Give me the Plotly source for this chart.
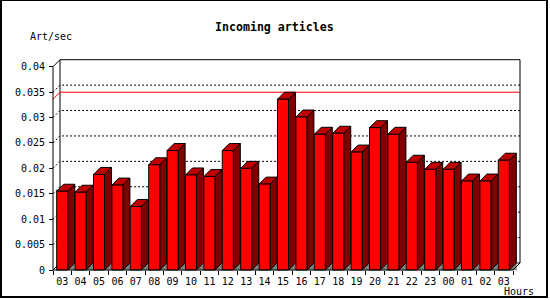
import plotly.graph_objects as go

# ---------------- data ----------------
hours = ["03", "04", "05", "06", "07", "08", "09", "10", "11", "12", "13", "14",
         "15", "16", "17", "18", "19", "20", "21", "22", "23", "00", "01", "02", "03"]
art_per_sec = [0.0155, 0.0153, 0.0188, 0.0167, 0.0125, 0.0207, 0.0235, 0.0187,
               0.0184, 0.0235, 0.0200, 0.0169, 0.0336, 0.0301, 0.0267, 0.0269,
               0.0232, 0.0280, 0.0267, 0.0212, 0.0198, 0.0198, 0.0175, 0.0175,
               0.0216]
y_tick_values = [0, 0.005, 0.01, 0.015, 0.02, 0.025, 0.03, 0.035, 0.04]
y_tick_labels = ["0", "0.005", "0.01", "0.015", "0.02", "0.025", "0.03", "0.035", "0.04"]
title_text = "Incoming articles"
y_title = "Art/sec"
x_title = "Hours"

# ---------------- geometry (styles) ----------------
W, H = 550, 300
X0PX, Y0PX = 53, 270          # front origin in pixels
CAT_PX = 18.4                 # pixels per category
VAL_PX = 203.3 / 0.04         # pixels per unit value
DEPTH_PX = 7                  # 3d depth offset in pixels
L, R, T, B = 44, 528, 52, 276 # plot area in pixels

dxu = DEPTH_PX / CAT_PX
dyu = DEPTH_PX / VAL_PX
n = len(hours)
top = y_tick_values[-1]
bar_l, bar_r = 0.2, 0.8

FRONT = "#ff0000"
SIDE = "#800000"
TOPC = "#c00000"
SHADOW = "#808080"
FONT = "DejaVu Sans Mono"


def px_x(px):
    return (px - L) / (R - L)


def px_y(py):
    return (B - py) / (B - T)


fig = go.Figure()


def poly_trace(xs, ys, fill=None, color="black", width=1, dash=None):
    kw = dict(x=xs, y=ys, mode="lines", hoverinfo="skip", showlegend=False,
              line=dict(color=color, width=width, dash=dash))
    if fill:
        kw.update(fill="toself", fillcolor=fill)
    return go.Scatter(**kw)


# back plane + floor outline
bx = [dxu, dxu, n + dxu, n + dxu, dxu, None, 0, dxu]
by = [dyu, top + dyu, top + dyu, dyu, dyu, None, 0, dyu]
fig.add_trace(poly_trace(bx, by))

# dotted grid lines
gx, gy = [], []
for v in y_tick_values[1:-1]:
    gx += [0, dxu, n + dxu, None]
    gy += [v, v + dyu, v + dyu, None]
fig.add_trace(poly_trace(gx, gy, dash="2px,2px"))

# max line
vmax = max(art_per_sec)
fig.add_trace(poly_trace([0, dxu, n + dxu], [vmax, vmax + dyu, vmax + dyu], color="#ff0000"))

# floor shadows
sx, sy = [], []
for i in range(n):
    xr = i + bar_r
    sx += [xr, xr + dxu, xr + dxu, xr, None]
    sy += [0, 0, dyu, 0, None]
fig.add_trace(poly_trace(sx, sy, fill=SHADOW, color=SHADOW, width=0.5))

# bars
fx, fy, ssx, ssy, tx, ty = [], [], [], [], [], []
for i, v in enumerate(art_per_sec):
    a, b = i + bar_l, i + bar_r
    fx += [a, b, b, a, a, None]
    fy += [0, 0, v, v, 0, None]
    ssx += [b, b + dxu, b + dxu, b, b, None]
    ssy += [0, dyu, v + dyu, v, 0, None]
    tx += [a, b, b + dxu, a + dxu, a, None]
    ty += [v, v, v + dyu, v + dyu, v, None]
fig.add_trace(poly_trace(ssx, ssy, fill=SIDE))
fig.add_trace(poly_trace(tx, ty, fill=TOPC))
fig.add_trace(poly_trace(fx, fy, fill=FRONT))

# front axes
ax_x = [dxu, 0, 0, n, n + dxu]
ax_y = [top + dyu, top, 0, 0, dyu]
fig.add_trace(poly_trace(ax_x, ax_y))

# invisible trace on overlay axis for boundary ticks
fig.add_trace(go.Scatter(x=[0, n], y=[0, 0], xaxis="x2", mode="lines",
                         line=dict(width=0), hoverinfo="skip", showlegend=False))

xrange = [(L - X0PX) / CAT_PX, (R - X0PX) / CAT_PX]
yrange = [(Y0PX - B) / VAL_PX, (Y0PX - T) / VAL_PX]

fig.update_layout(
    width=W, height=H, autosize=False,
    margin=dict(l=L, r=W - R, t=T, b=H - B, pad=0),
    paper_bgcolor="white", plot_bgcolor="white",
    showlegend=False,
    xaxis=dict(range=xrange, showgrid=False, zeroline=False, showline=False,
               tickmode="array", tickvals=[i + 0.5 for i in range(n)], ticktext=hours,
               ticks="", ticklabelstandoff=4,
               tickfont=dict(family=FONT, size=10, color="black"),
               anchor="free", position=px_y(Y0PX), fixedrange=True),
    xaxis2=dict(range=xrange, overlaying="x", showgrid=False, zeroline=False,
                showline=False, tickmode="array", tickvals=list(range(n + 1)),
                ticks="outside", ticklen=4, tickcolor="black", tickwidth=1,
                showticklabels=False, anchor="free", position=px_y(Y0PX),
                side="bottom", fixedrange=True),
    yaxis=dict(range=yrange, showgrid=False, zeroline=False, showline=False,
               tickmode="array", tickvals=y_tick_values, ticktext=y_tick_labels,
               ticks="outside", ticklen=4, tickcolor="black", tickwidth=1,
               ticklabelstandoff=2,
               tickfont=dict(family=FONT, size=10, color="black"),
               anchor="free", position=px_x(X0PX), fixedrange=True),
)

fig.update_layout(
    shapes=[dict(type="rect", xref="paper", yref="paper",
                 x0=px_x(1), x1=px_x(547), y0=px_y(297), y1=px_y(0),
                 line=dict(color="black", width=2), fillcolor="rgba(0,0,0,0)")],
    annotations=[
        dict(text="<b>%s</b>" % title_text, xref="paper", yref="paper",
             x=px_x(274), y=px_y(27), showarrow=False, xanchor="center", yanchor="middle",
             font=dict(family=FONT, size=11.6, color="black")),
        dict(text=y_title, xref="paper", yref="paper",
             x=px_x(50.5), y=px_y(37), showarrow=False, xanchor="center", yanchor="middle",
             font=dict(family=FONT, size=10, color="black")),
        dict(text=x_title, xref="paper", yref="paper",
             x=px_x(519), y=px_y(291), showarrow=False, xanchor="center", yanchor="middle",
             font=dict(family=FONT, size=10, color="black")),
    ],
)

fig.write_html("out.html")
